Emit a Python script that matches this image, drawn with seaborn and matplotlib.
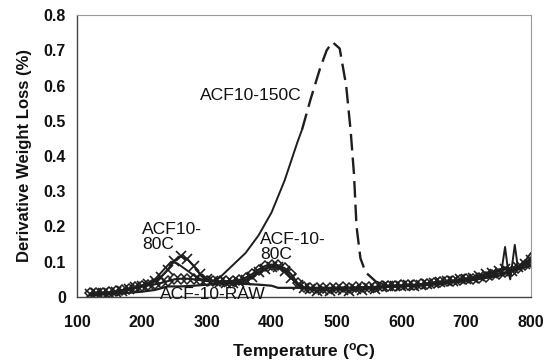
import matplotlib
matplotlib.use("Agg")
import matplotlib.pyplot as plt
import seaborn as sns
import pandas as pd

# ---------------- data ----------------
temp_grid = [120, 130, 140, 150, 160, 170, 180, 190, 200, 210, 220, 230, 240, 250,
             260, 270, 280, 290, 300, 310, 320, 330, 340, 350, 360, 370, 380, 390,
             400, 410, 420, 430, 440, 450, 460, 470, 480, 490, 500, 510, 520, 530,
             540, 550, 560, 570, 580, 590, 600, 610, 620, 630, 640, 650, 660, 670,
             680, 690, 700, 710, 720, 730, 740, 750, 760, 770, 780, 790, 800]

acf10_80c = [.008, .012, .010, .012, .015, .018, .022, .027, .032, .038, .045, .058, .078, .102,
             .115, .108, .088, .065, .050, .045, .042, .040, .040, .042, .048, .058, .070, .080,
             .086, .084, .075, .055, .035, .025, .022, .018, .020, .018, .022, .020, .018, .022,
             .020, .025, .022, .028, .030, .030, .032, .033, .030, .035, .038, .040, .042, .045,
             .045, .050, .052, .055, .060, .065, .068, .075, .080, .075, .085, .095, .105]

acf_10_80c = [.010, .010, .012, .013, .016, .020, .024, .028, .030, .033, .036, .040, .045, .050,
              .052, .052, .050, .048, .046, .045, .044, .045, .046, .048, .055, .065, .078, .088,
              .092, .090, .082, .065, .040, .028, .025, .025, .026, .025, .026, .027, .026, .027,
              .028, .028, .029, .030, .031, .032, .033, .034, .035, .036, .038, .040, .042, .044,
              .046, .048, .050, .052, .055, .058, .062, .066, .070, .075, .082, .090, .098]

raw_temp = [120, 150, 200, 220, 240, 260, 280, 300, 320, 350, 380, 400, 410, 450, 500,
            550, 600, 650, 700, 750, 800]
raw_val = [.005, .008, .015, .020, .030, .030, .032, .035, .038, .038, .035, .032, .026,
           .026, .026, .027, .030, .035, .045, .060, .090]

c150_solid_temp = [120, 140, 160, 180, 200, 220, 235, 245, 255, 270, 285, 300, 310, 320,
                   340, 360, 380, 400, 420, 440, 447]
c150_solid_val = [.005, .010, .015, .020, .030, .050, .080, .100, .095, .075, .055, .045,
                  .045, .055, .090, .125, .175, .240, .330, .440, .475]
c150_dash_temp = [447, 460, 475, 485, 494, 505, 515, 522, 527, 531, 537, 545, 560]
c150_dash_val = [.475, .560, .650, .700, .723, .705, .600, .470, .350, .200, .110, .070, .045]
c150_tail_temp = [560, 580, 600, 650, 700, 740, 755, 760, 765, 768, 775, 780, 790, 800]
c150_tail_val = [.045, .030, .030, .040, .050, .070, .080, .142, .070, .050, .148, .080,
                 .100, .125]

x_ticks = [100, 200, 300, 400, 500, 600, 700, 800]
y_ticks = [0, 0.1, 0.2, 0.3, 0.4, 0.5, 0.6, 0.7, 0.8]
y_tick_labels = ["0", "0.1", "0.2", "0.3", "0.4", "0.5", "0.6", "0.7", "0.8"]

# ---------------- plot ----------------
sns.set_theme(style="white")
plt.rcParams["font.family"] = ["Liberation Sans", "DejaVu Sans"]

fig = plt.figure(figsize=(5.52, 3.64), dpi=100)
ax = fig.add_axes([77 / 552, 1 - 297 / 364, (531 - 77) / 552, (297 - 15) / 364])

ink = "#1e1e1e"

df_a = pd.DataFrame({"T": temp_grid, "v": acf10_80c})
df_b = pd.DataFrame({"T": temp_grid, "v": acf_10_80c})
df_raw = pd.DataFrame({"T": raw_temp, "v": raw_val})
df_s = pd.DataFrame({"T": c150_solid_temp, "v": c150_solid_val})
df_d = pd.DataFrame({"T": c150_dash_temp, "v": c150_dash_val})
df_t = pd.DataFrame({"T": c150_tail_temp, "v": c150_tail_val})

sns.lineplot(data=df_raw, x="T", y="v", ax=ax, color=ink, lw=1.6)
sns.lineplot(data=df_b, x="T", y="v", ax=ax, color=ink, lw=1.5, marker="D",
             markersize=5.5, mfc="none", mec=ink, mew=1.1)
sns.lineplot(data=df_a, x="T", y="v", ax=ax, color=ink, lw=1.5, marker="x",
             markersize=6.5, mec=ink, mew=1.2)
sns.lineplot(data=df_s, x="T", y="v", ax=ax, color=ink, lw=1.4)
sns.lineplot(data=df_d, x="T", y="v", ax=ax, color=ink, lw=1.7, linestyle=(0, (7, 3)))
sns.lineplot(data=df_t, x="T", y="v", ax=ax, color=ink, lw=1.4)

ax.set_xlim(100, 800)
ax.set_ylim(0, 0.8)
ax.set_xticks(x_ticks)
ax.set_yticks(y_ticks)
ax.set_yticklabels(y_tick_labels)
ax.tick_params(axis="both", which="both", direction="out", length=4, width=1,
               color="#555555", labelsize=11.5, pad=4, labelcolor="#111111")
ax.tick_params(axis="x", pad=9)
for lab in ax.get_xticklabels() + ax.get_yticklabels():
    lab.set_fontweight("bold")

ax.set_xlabel("Temperature ($\\mathregular{^{o}}$C)", fontsize=12.5, fontweight="bold",
              color="#111111", labelpad=8)
ax.set_ylabel("Derivative Weight Loss (%)", fontsize=12, fontweight="bold",
              color="#111111", labelpad=8)

for side in ["left", "bottom"]:
    ax.spines[side].set_color("#444444")
    ax.spines[side].set_linewidth(1.0)
for side in ["top", "right"]:
    ax.spines[side].set_color("#9a9a9a")
    ax.spines[side].set_linewidth(0.8)

lab_kw = dict(fontsize=12.6, va="center", ha="left", color="#111111", linespacing=1.0)
ax.text(290, 0.573, "ACF10-150C", **lab_kw)
ax.text(200, 0.169, "ACF10-\n80C", **lab_kw)
ax.text(382, 0.143, "ACF-10-\n80C", **lab_kw)
ax.text(228, 0.008, "ACF-10-RAW", clip_on=False, **lab_kw)

fig.savefig("out.png", dpi=100)
